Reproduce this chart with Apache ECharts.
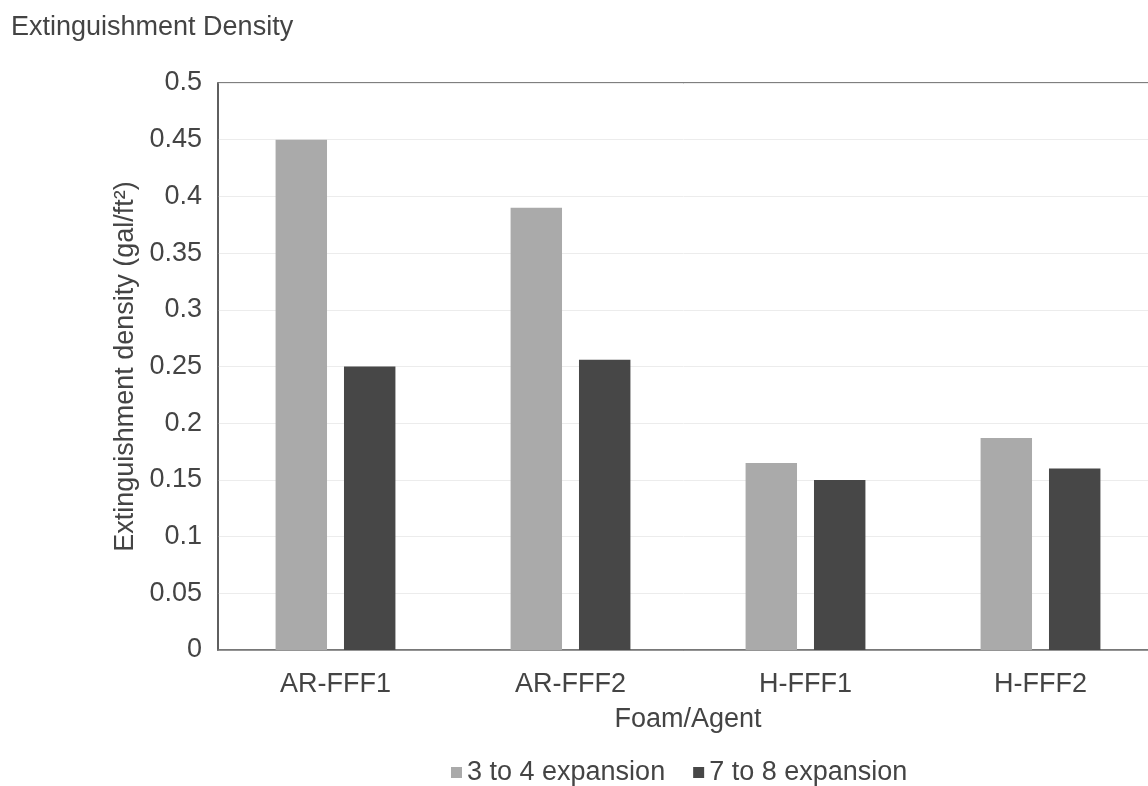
<!DOCTYPE html>
<html>
<head>
<meta charset="utf-8">
<script src="https://cdn.jsdelivr.net/npm/echarts@6/dist/echarts.min.js"></script>
<style>
  html, body { margin: 0; padding: 0; background: #fff; }
  #chart { width: 1148px; height: 786px; }
</style>
</head>
<body>
<div id="chart"></div>
<script>
  // data
  var categories = ['AR-FFF1', 'AR-FFF2', 'H-FFF1', 'H-FFF2']
  var seriesNames = ['3 to 4 expansion', '7 to 8 expansion']
  var lowExpansion = [0.45, 0.39, 0.165, 0.187]
  var highExpansion = [0.25, 0.256, 0.15, 0.16]
  var yTicks = { min: 0, max: 0.5, interval: 0.05 }

  var font = 'Liberation Sans, Arial, sans-serif'
  var fs = 27
  var chart = echarts.init(document.getElementById('chart'))

  chart.setOption({
    animation: false,
    textStyle: { fontFamily: font },
    title: {
      text: 'Extinguishment Density',
      left: 11,
      top: 14,
      padding: 0,
      textStyle: { fontSize: fs, fontWeight: 'normal', color: '#444', fontFamily: font }
    },
    legend: {
      data: seriesNames,
      bottom: 0,
      left: 451,
      padding: 0,
      itemWidth: 11,
      itemHeight: 11,
      itemGap: 28,
      icon: 'rect',
      textStyle: { fontSize: fs, color: '#444', fontFamily: font, padding: [0, 0, 0, 0] }
    },
    grid: {
      left: 218,
      width: 940,
      top: 83,
      bottom: 136,
      outerBoundsMode: 'none',
      show: true,
      borderColor: '#555',
      borderWidth: 1.5
    },
    xAxis: {
      type: 'category',
      data: categories,
      name: 'Foam/Agent',
      nameLocation: 'middle',
      nameGap: 56,
      nameTextStyle: { fontSize: fs, color: '#444' },
      axisLine: { lineStyle: { color: '#777', width: 1.5 } },
      axisTick: { show: false },
      axisLabel: { fontSize: fs, color: '#444', margin: 21 }
    },
    yAxis: {
      type: 'value',
      min: yTicks.min,
      max: yTicks.max,
      interval: yTicks.interval,
      name: 'Extinguishment density (gal/ft²)',
      nameLocation: 'middle',
      nameGap: 79,
      nameTextStyle: { fontSize: fs, color: '#444' },
      axisLine: { show: true, lineStyle: { color: '#555', width: 1.5 } },
      axisTick: { show: false },
      axisLabel: { fontSize: fs, color: '#444', margin: 16 },
      splitLine: { lineStyle: { color: '#ececec' } }
    },
    series: [{
      name: seriesNames[0],
      type: 'bar',
      data: lowExpansion,
      barGap: '33%',
      barCategoryGap: '49%',
      itemStyle: { color: '#aaaaaa' }
    }, {
      name: seriesNames[1],
      type: 'bar',
      data: highExpansion,
      itemStyle: { color: '#474747' }
    }]
  })
</script>
</body>
</html>
